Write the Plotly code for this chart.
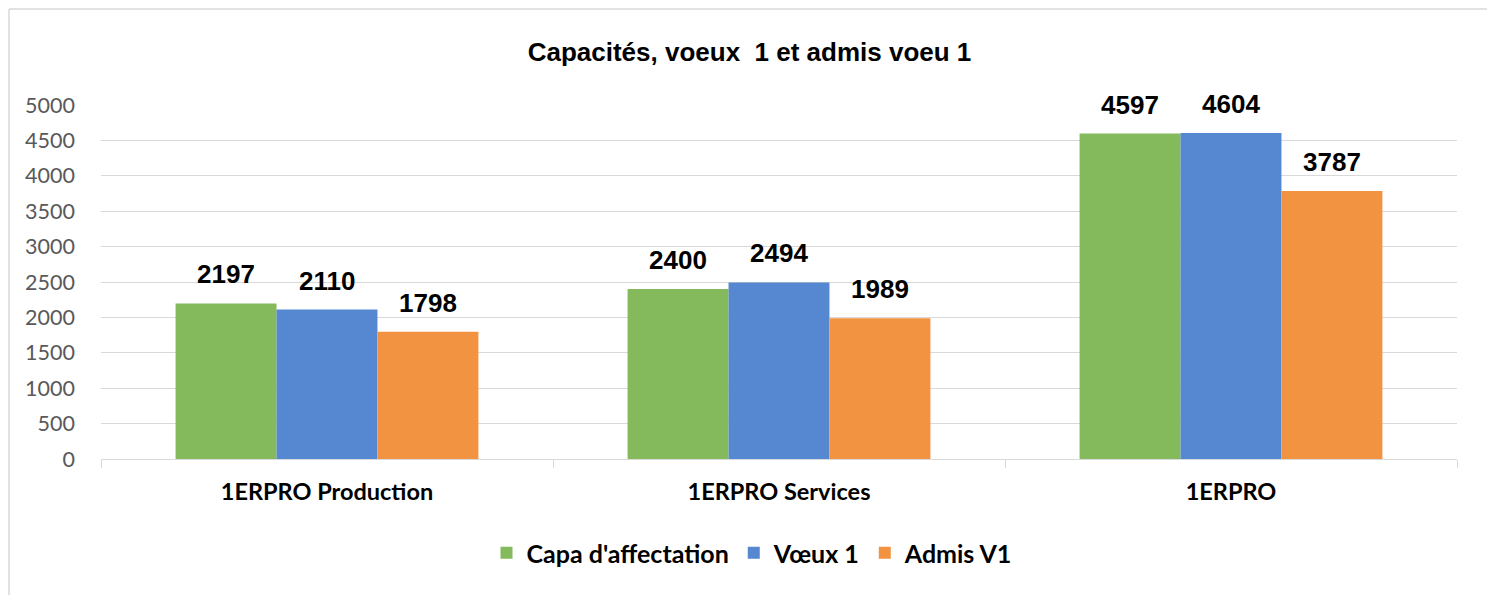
import plotly.graph_objects as go

categories = ["1ERPRO Production", "1ERPRO Services", "1ERPRO"]
series_names = ["Capa d'affectation", "Vœux 1", "Admis V1"]
capa = [2197, 2400, 4597]
voeux1 = [2110, 2494, 4604]
admis = [1798, 1989, 3787]
y_ticks = [0, 500, 1000, 1500, 2000, 2500, 3000, 3500, 4000, 4500, 5000]
title_text = "Capacités, voeux  1 et admis voeu 1"

colors = ["#84BA5B", "#5588D0", "#F29341"]
series = [capa, voeux1, admis]

W, H = 1487, 595
ml, mt = 101, 105
mr = W - 1457
mb = H - 459
plot_w = W - ml - mr
plot_h = H - mt - mb
bargap = 0.33
bar_px = plot_w / len(categories) * (1 - bargap) / len(series)

fig = go.Figure()
for name, vals, col in zip(series_names, series, colors):
    fig.add_trace(go.Bar(name=name, x=categories, y=vals, marker=dict(color=col, line=dict(width=0)),
                         hoverinfo="skip"))

# data labels
for i, vals in enumerate(series):
    for cat, v in zip(categories, vals):
        fig.add_annotation(x=cat, y=v, xref="x", yref="y", text=f"<b>{v}</b>",
                           showarrow=False, yanchor="bottom", yshift=12,
                           xshift=(i - 1) * bar_px,
                           font=dict(family="Liberation Sans, Arial", size=26, color="#000000"))

# chart border (top & left visible)
bx, by = 9, 9
x_left = (bx - ml) / plot_w
y_top = (H - mb - by) / plot_h
fig.add_shape(type="line", xref="paper", yref="paper", x0=x_left, x1=(W - ml) / plot_w,
              y0=y_top, y1=y_top, line=dict(color="#D9D9D9", width=1.5))
fig.add_shape(type="line", xref="paper", yref="paper", x0=x_left, x1=x_left,
              y0=y_top, y1=-mb / plot_h, line=dict(color="#D9D9D9", width=1.5))

fig.update_layout(
    width=W, height=H,
    margin=dict(l=ml, r=mr, t=mt, b=mb),
    paper_bgcolor="white", plot_bgcolor="white",
    barmode="group", bargap=bargap, bargroupgap=0,
    title=dict(text="<b>" + title_text.replace("  ", "\u00a0 ") + "</b>",
               x=749.5 / W, xanchor="center", y=1 - 52 / H, yanchor="middle",
               font=dict(family="Liberation Sans, Arial", size=26, color="#000000")),
    legend=dict(orientation="h", x=752 / W, xanchor="center", xref="container", yref="container",
                y=1 - 553 / H, yanchor="middle",
                font=dict(family="Lato, Calibri", size=25, color="#000000", weight="bold"),
                itemwidth=30, tracegroupgap=0),
    showlegend=True,
    hovermode=False,
)
fig.update_xaxes(showgrid=False, showline=True, linecolor="#D9D9D9", linewidth=1,
                 ticks="outside", tickson="boundaries", ticklen=8, tickcolor="#D9D9D9",
                 tickfont=dict(family="Lato, Calibri", size=23.5, color="#000000", weight="bold"),
                 ticklabelstandoff=12)
fig.update_yaxes(range=[0, 5000], tickvals=y_ticks, showgrid=True, gridcolor="#D9D9D9", gridwidth=1,
                 zeroline=False, showline=False,
                 tickfont=dict(family="Lato, Calibri", size=21.5, color="#595959"),
                 ticklabelstandoff=25)

fig.write_html("out.html", config={"displayModeBar": False},
               post_script="document.body.style.margin='0';document.body.style.overflow='hidden';")
